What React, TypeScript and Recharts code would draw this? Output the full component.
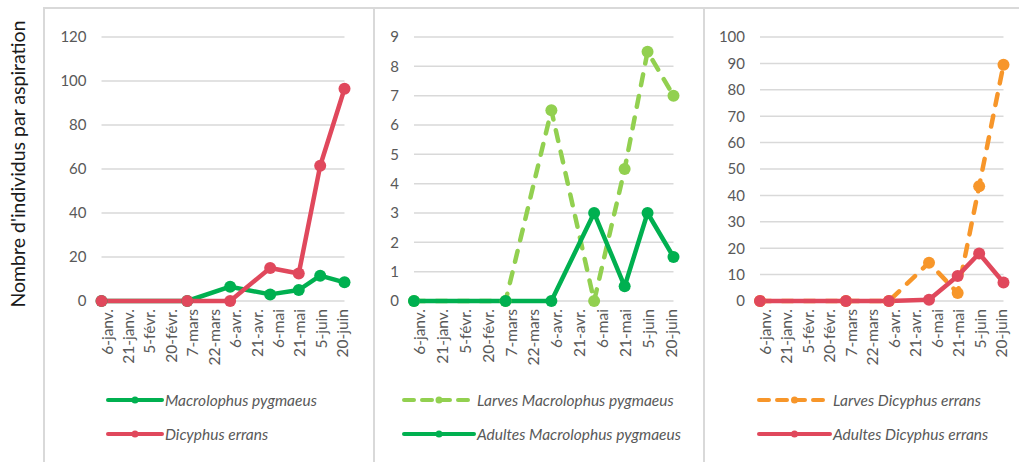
import { LineChart, Line, XAxis, YAxis, CartesianGrid, Legend } from 'recharts';

// sampling dates of the season
const sampleDates = ['2019-01-06', '2019-03-07', '2019-04-06', '2019-05-04', '2019-05-24', '2019-06-08', '2019-06-25'];

// date axis ticks every 15 days
const tickDays = [0, 15, 30, 45, 60, 75, 90, 105, 120, 135, 150, 165];
const tickLabels = ['6-janv.', '21-janv.', '5-févr.', '20-févr.', '7-mars', '22-mars', '6-avr.', '21-avr.', '6-mai', '21-mai', '5-juin', '20-juin'];

// totals per species
const macrolophusTotal = [0, 0, 6.5, 3, 5, 11.5, 8.5];
const dicyphusTotal = [0, 0, 0, 15, 12.5, 61.5, 96.5];

// Macrolophus pygmaeus by stage
const macrolophusLarvae = [0, 0, 6.5, 0, 4.5, 8.5, 7];
const macrolophusAdults = [0, 0, 0, 3, 0.5, 3, 1.5];

// Dicyphus errans by stage
const dicyphusLarvae = [0, 0, 0, 14.5, 3, 43.5, 89.5];
const dicyphusAdults = [0, 0, 0, 0.5, 9.5, 18, 7];

const DAY_MS = 86400000;
const firstDate = Date.parse(sampleDates[0]);
const dayOf = (d: string) => Math.round((Date.parse(d) - firstDate) / DAY_MS);

const GREEN = '#00B050';
const LIGHT_GREEN = '#92D050';
const RED = '#E0485C';
const ORANGE = '#F7962A';
const GRID = '#D9D9D9';
const TEXT = '#595959';
const FONT = 'Lato, "Open Sans", sans-serif';

type Series = { key: string; name: string; color: string; dashed?: boolean; values: number[] };

type PanelProps = {
  left: number;
  width: number;
  yWidth: number;
  marginLeft: number;
  plotWidth: number;
  yMax: number;
  yTicks: number[];
  series: Series[];
  legendX: number;
  legendLine: number;
};

const HEIGHT = 455;

function StageLegend({ series, lineLen }: { series: Series[]; lineLen: number }) {
  return (
    <div style={{ fontFamily: FONT }}>
      {series.map((s) => (
        <div key={s.key} style={{ display: 'flex', alignItems: 'center', height: 34 }}>
          <svg width={lineLen + 4} height={12}>
            <line
              x1={2}
              x2={lineLen + 2}
              y1={6}
              y2={6}
              stroke={s.color}
              strokeWidth={4}
              strokeLinecap="round"
              strokeDasharray={s.dashed ? '10 8' : undefined}
            />
            <circle cx={lineLen / 2 + 2} cy={6} r={3.5} fill={s.color} />
          </svg>
          <span style={{ marginLeft: 1, fontStyle: 'italic', fontSize: 15.5, color: TEXT, whiteSpace: 'nowrap' }}>
            {s.name}
          </span>
        </div>
      ))}
    </div>
  );
}

function Panel({ left, width, yWidth, marginLeft, plotWidth, yMax, yTicks, series, legendX, legendLine }: PanelProps) {
  const rows = sampleDates.map((d, i) => {
    const row: Record<string, number> = { day: dayOf(d) };
    series.forEach((s) => {
      row[s.key] = s.values[i];
    });
    return row;
  });
  const plotRight = marginLeft + yWidth + plotWidth;

  return (
    <div style={{ position: 'absolute', left, top: 7 }}>
      <LineChart
        width={width}
        height={HEIGHT}
        data={rows}
        margin={{ top: 30, right: width - plotRight, left: marginLeft, bottom: 101 }}
      >
        <CartesianGrid vertical={false} stroke={GRID} strokeWidth={1.5} />
        <XAxis
          type="number"
          dataKey="day"
          domain={[0, 170]}
          ticks={tickDays}
          interval={0}
          tickFormatter={(v: number) => tickLabels[tickDays.indexOf(v)] ?? ''}
          angle={-90}
          textAnchor="end"
          height={60}
          axisLine={false}
          tickLine={false}
          tick={{ fill: TEXT, fontSize: 15.5, fontFamily: FONT }}
        />
        <YAxis
          type="number"
          domain={[0, yMax]}
          ticks={yTicks}
          interval={0}
          width={yWidth}
          axisLine={false}
          tickLine={false}
          tickSize={0}
          tickMargin={15}
          tick={{ fill: TEXT, fontSize: 15, fontFamily: FONT }}
        />
        <Legend
          verticalAlign="middle"
          wrapperStyle={{ top: 376, left: legendX, width: 'auto' }}
          content={() => <StageLegend series={series} lineLen={legendLine} />}
        />
        {series.map((s) => (
          <Line
            key={s.key}
            dataKey={s.key}
            name={s.name}
            type="linear"
            stroke={s.color}
            strokeWidth={4.5}
            strokeLinecap="round"
            strokeLinejoin="round"
            strokeDasharray={s.dashed ? '11 11' : undefined}
            dot={{ r: 6, fill: s.color, stroke: 'none', strokeDasharray: '' }}
            activeDot={false}
            isAnimationActive={false}
          />
        ))}
      </LineChart>
    </div>
  );
}

const boxStyle = (left: number, width: number): React.CSSProperties => ({
  position: 'absolute',
  left,
  top: 7,
  width,
  height: 470,
  border: `2px solid ${GRID}`,
  boxSizing: 'border-box',
});

export default function App() {
  return (
    <div
      style={{
        position: 'absolute',
        left: 0,
        top: 0,
        width: 1019,
        height: 462,
        overflow: 'hidden',
        background: '#fff',
        fontFamily: FONT,
      }}
    >
      <div style={boxStyle(43, 332)} />
      <div style={boxStyle(373, 332)} />
      <div style={boxStyle(703, 340)} />

      <svg style={{ position: 'absolute', left: 0, top: 0 }} width={40} height={462}>
        <text
          x={0}
          y={0}
          transform="translate(25,164) rotate(-90)"
          textAnchor="middle"
          fontSize={19.5}
          fontFamily={FONT}
          fill="#1a1a1a"
        >
          Nombre d'individus par aspiration
        </text>
      </svg>

      <Panel
        left={44}
        width={329}
        yWidth={45}
        marginLeft={12.5}
        plotWidth={243}
        yMax={120}
        yTicks={[0, 20, 40, 60, 80, 100, 120]}
        legendX={62}
        legendLine={54}
        series={[
          { key: 'macro', name: 'Macrolophus pygmaeus', color: GREEN, values: macrolophusTotal },
          { key: 'dicy', name: 'Dicyphus errans', color: RED, values: dicyphusTotal },
        ]}
      />
      <Panel
        left={373}
        width={330}
        yWidth={30}
        marginLeft={11}
        plotWidth={259.5}
        yMax={9}
        yTicks={[0, 1, 2, 3, 4, 5, 6, 7, 8, 9]}
        legendX={29}
        legendLine={70}
        series={[
          { key: 'larvae', name: 'Larves Macrolophus pygmaeus', color: LIGHT_GREEN, dashed: true, values: macrolophusLarvae },
          { key: 'adults', name: 'Adultes Macrolophus pygmaeus', color: GREEN, values: macrolophusAdults },
        ]}
      />
      <Panel
        left={703}
        width={316}
        yWidth={45}
        marginLeft={12}
        plotWidth={243.5}
        yMax={100}
        yTicks={[0, 10, 20, 30, 40, 50, 60, 70, 80, 90, 100]}
        legendX={54}
        legendLine={71}
        series={[
          { key: 'larvae', name: 'Larves Dicyphus errans', color: ORANGE, dashed: true, values: dicyphusLarvae },
          { key: 'adults', name: 'Adultes Dicyphus errans', color: RED, values: dicyphusAdults },
        ]}
      />
    </div>
  );
}
